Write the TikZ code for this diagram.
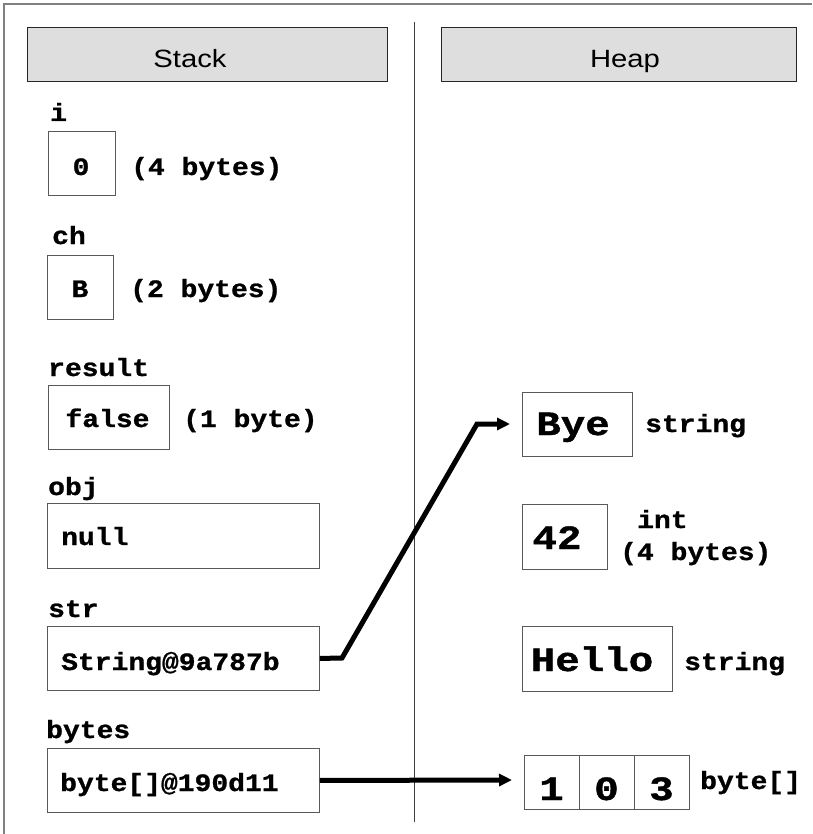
\documentclass[tikz,border=0pt]{standalone}
\usepackage{fontspec}
\setmainfont{Liberation Sans}
\newfontfamily\hdrfont{Liberation Sans}[FakeStretch=1.17]
\newfontfamily\stkfont{Liberation Mono}[FakeStretch=1.12, BoldFeatures={FakeBold=1}]
\newfontfamily\hpfont{Liberation Mono}[FakeStretch=1.2, BoldFeatures={FakeBold=1.2}]
\usetikzlibrary{arrows.meta}
\begin{document}
\begin{tikzpicture}[x=1pt,y=-1pt,
  frameline/.style={draw=black!50, line width=2pt},
  divider/.style={draw=black!75, line width=1pt},
  hdr/.style={draw=black!85, fill=black!13, line width=1pt, inner sep=0pt, anchor=north west},
  hdrtext/.style={font=\hdrfont\fontsize{25}{30}\selectfont, inner sep=0pt, anchor=base},
  cellbox/.style={draw=black!65, line width=0.9pt, inner sep=0pt, anchor=north west},
  stk/.style={font=\stkfont\bfseries\fontsize{25}{30}\selectfont, inner sep=0pt},
  hp/.style={font=\hpfont\bfseries\fontsize{34}{40}\selectfont, inner sep=0pt, anchor=base},
  ptr/.style={draw=black, line width=5pt, line join=miter, -{Triangle[length=13pt,width=12pt]}}
]
\useasboundingbox (0,0) rectangle (812,834);
% frame and divider
\coordinate (fbl) at (4,834);
\coordinate (ftl) at (4,4);
\coordinate (ftr) at (812,4);
\draw[frameline] (fbl) -- (ftl) -- (ftr);
\coordinate (dtop) at (414,22);
\coordinate (dbot) at (414,822);
\draw[divider] (dtop) -- (dbot);
% headers
\node[hdr, minimum width=360pt, minimum height=54pt] (stackhdr) at (27,27) {};
\node[hdrtext] (stacklbl) at (190,68) {Stack};
\node[hdr, minimum width=355pt, minimum height=54pt] (heaphdr) at (441,27) {};
\node[hdrtext] (heaplbl) at (625,68) {Heap};
% stack: i
\node[stk, anchor=base west] (ilbl) at (50,121) {i};
\node[cellbox, minimum width=67pt, minimum height=64pt] (ibox) at (48,131) {};
\node[stk, anchor=base] (ival) at (81,175) {0};
\node[stk, anchor=base west] (isz) at (131,175) {(4 bytes)};
% ch
\node[stk, anchor=base west] (chlbl) at (52,244) {ch};
\node[cellbox, minimum width=66pt, minimum height=64pt] (chbox) at (47,255) {};
\node[stk, anchor=base] (chval) at (80,297) {B};
\node[stk, anchor=base west] (chsz) at (130,297) {(2 bytes)};
% result
\node[stk, anchor=base west] (reslbl) at (48,376) {result};
\node[cellbox, minimum width=121pt, minimum height=64pt] (resbox) at (48,385) {};
\node[stk, anchor=base] (resval) at (107.5,427) {false};
\node[stk, anchor=base west] (ressz) at (183,427) {(1 byte)};
% obj
\node[stk, anchor=base west] (objlbl) at (48,495) {obj};
\node[cellbox, minimum width=272pt, minimum height=65pt] (objbox) at (47,503) {};
\node[stk, anchor=base west] (objval) at (61,545) {null};
% str
\node[stk, anchor=base west] (strlbl) at (48,617) {str};
\node[cellbox, minimum width=272pt, minimum height=64pt] (strbox) at (47,626) {};
\node[stk, anchor=base west] (strval) at (61,670) {String@9a787b};
% bytes
\node[stk, anchor=base west] (byteslbl) at (46,738) {bytes};
\node[cellbox, minimum width=272pt, minimum height=64pt] (bytesbox) at (47,748) {};
\node[stk, anchor=base west] (bytesval) at (60,791) {byte[]@190d11};
% heap: Bye
\node[cellbox, minimum width=110pt, minimum height=64pt] (byebox) at (522,392) {};
\node[hp] (byeval) at (573,435) {Bye};
\node[stk, anchor=base west] (byetype) at (645,432) {string};
% 42
\node[cellbox, minimum width=85pt, minimum height=65pt] (fortybox) at (522,504) {};
\node[hp] (fortyval) at (557,549) {42};
\node[stk, anchor=base west] (inttype) at (637,528) {int};
\node[stk, anchor=base west] (intsz) at (620,560) {(4 bytes)};
% Hello
\node[cellbox, minimum width=150pt, minimum height=65pt] (hellobox) at (522,626) {};
\node[hp] (helloval) at (592,671) {Hello};
\node[stk, anchor=base west] (hellotype) at (684,670) {string};
% byte array
\node[cellbox, minimum width=55pt, minimum height=54pt] (cella) at (524,755) {};
\node[cellbox, minimum width=55pt, minimum height=54pt] (cellb) at (579,755) {};
\node[cellbox, minimum width=55pt, minimum height=54pt] (cellc) at (634,755) {};
\node[hp] (vala) at (551.5,800) {1};
\node[hp] (valb) at (606.5,800) {0};
\node[hp] (valc) at (661.5,800) {3};
\node[stk, anchor=base west] (arrtype) at (700,789) {byte[]};
% pointers
\coordinate (sbend1) at (342,658);
\coordinate (sbend2) at (477,424);
\coordinate (stip) at (510,424);
\draw[ptr] (strbox.east) -- (sbend1) -- (sbend2) -- (stip);
\coordinate (btip) at (512,780);
\draw[ptr] (bytesbox.east) -- (btip);
\end{tikzpicture}
\end{document}
